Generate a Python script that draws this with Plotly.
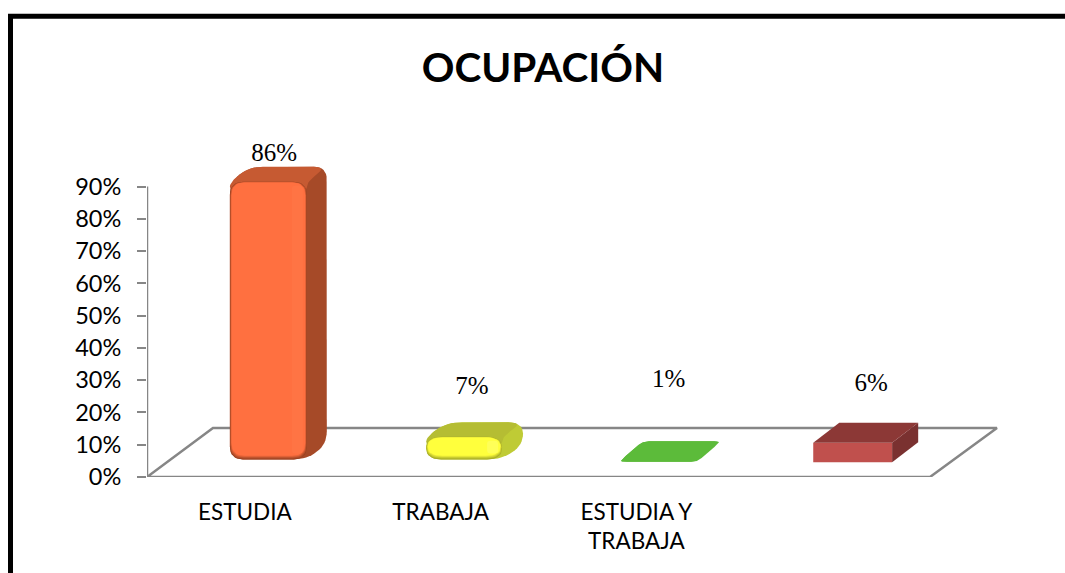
import plotly.graph_objects as go

# ---- data ----
categories = ["ESTUDIA", "TRABAJA", "ESTUDIA Y<br>TRABAJA", ""]
values = [0.86, 0.07, 0.006, 0.06]
data_labels = ["86%", "7%", "1%", "6%"]
label_heights = [0.999, 0.276, 0.297, 0.287]
label_shift = [0.03, 0.04, 0.045, 0.08]
y_ticks = [0, 0.1, 0.2, 0.3, 0.4, 0.5, 0.6, 0.7, 0.8, 0.9]

# ---- per-bar styling ----
bases = [0.0545, 0.0545, 0.047, 0.046]
x_shift = [0.12, 0.12, 0.116, 0.105]
widths = [0.393, 0.388, 0.388, 0.403]
depth_x = [0.102, 0.107, 0.112, 0.133]
depth_y = [0.047, 0.045, 0.058, 0.062]
radius = [13, 15, 6, 0]
front = ["#FF7040", "#FFFF3C", "#5CBB3A", "#C0504D"]
edge = ["#9A4222", "#A9AD28", "#5CBB3A", "#C0504D"]
top = ["#C65A32", "#B5BD33", "#5CBB3A", "#8C3836"]
side = ["#A64A28", "#BFCB35", "#5CBB3A", "#7A3130"]
highlight = ["#FF7444", "#FFFF58", "#5CBB3A", "#C0504D"]

GREY = "#868686"
PX_X, PX_Y = 195.75, 323.33  # pixels per category / per unit
PLOT_W, PLOT_H = 853, 1.1 * PX_Y
FRAME_LEFT, FRAME_TOP, PLOT_LEFT, PLOT_BOTTOM = 10.5, 15.7, 147, 477.4


def mix(c1, c2, t):
    a = [int(c1[k:k + 2], 16) for k in (1, 3, 5)]
    b = [int(c2[k:k + 2], 16) for k in (1, 3, 5)]
    return "#" + "".join(f"{round(x + (y - x) * t):02X}" for x, y in zip(a, b))


def rounded(pts, r):
    """Round a polygon's corners; r is in pixels."""
    if r <= 0:
        return [p[0] for p in pts] + [pts[0][0]], [p[1] for p in pts] + [pts[0][1]]
    P = [(a * PX_X, b * PX_Y) for a, b in pts]
    n = len(P)
    out = []

    def toward(a, b):
        d = ((a[0] - b[0]) ** 2 + (a[1] - b[1]) ** 2) ** 0.5
        t = min(r, d / 2) / d
        return (b[0] + (a[0] - b[0]) * t, b[1] + (a[1] - b[1]) * t)

    for k in range(n):
        p0, p1, p2 = P[k - 1], P[k], P[(k + 1) % n]
        s, e = toward(p0, p1), toward(p2, p1)
        for j in range(9):
            t = j / 8
            out.append(((1 - t) ** 2 * s[0] + 2 * t * (1 - t) * p1[0] + t ** 2 * e[0],
                        (1 - t) ** 2 * s[1] + 2 * t * (1 - t) * p1[1] + t ** 2 * e[1]))
    out.append(out[0])
    return [a / PX_X for a, _ in out], [b / PX_Y for _, b in out]


fig = go.Figure()


def poly(pts, color, r=0):
    xs, ys = rounded(pts, r)
    fig.add_trace(go.Scatter(x=xs, y=ys, mode="lines", fill="toself", fillcolor=color,
                             line=dict(width=0, color=color), hoverinfo="skip", showlegend=False))


# true bar trace (square front faces are visible, rounded ones are overdrawn below)
fig.add_trace(go.Bar(
    x=[i + x_shift[i] for i in range(4)], y=values, base=bases, width=widths,
    marker=dict(color=[front[i] if radius[i] == 0 else "rgba(0,0,0,0)" for i in range(4)],
                line=dict(width=0)),
    showlegend=False, hoverinfo="skip"))

# floor
fx, fy = 0.337, 0.1515
fig.add_trace(go.Scatter(x=[-0.5, 3.5, 3.5 + fx + 0.005, -0.5 + fx, -0.5], y=[0, 0, fy, fy, 0],
                         mode="lines", line=dict(color=GREY, width=2.5), hoverinfo="skip", showlegend=False))
# y axis line
fig.add_trace(go.Scatter(x=[-0.5, -0.5], y=[y_ticks[0], y_ticks[-1]], mode="lines",
                         line=dict(color=GREY, width=2.5), hoverinfo="skip", showlegend=False))

for i, v in enumerate(values):
    cx = i + x_shift[i]
    w = widths[i] / 2
    x0, x1 = cx - w, cx + w
    y0, y1 = bases[i], bases[i] + v
    dx, dy = depth_x[i], depth_y[i]
    r = radius[i]
    # silhouette of the box, in the side colour
    if r == 0:
        poly([(x1, y0), (x1 + dx, y0 + dy), (x1 + dx, y1 + dy), (x1, y1)], side[i])
        poly([(x0, y1), (x1, y1), (x1 + dx, y1 + dy), (x0 + dx, y1 + dy)], top[i])
        continue
    poly([(x0, y0), (x1, y0), (x1 + dx, y0 + dy), (x1 + dx, y1 + dy), (x0 + dx, y1 + dy), (x0, y1)], side[i], r)
    # top face, running underneath the front face
    under = min(v, 10 / PX_Y)
    poly([(x0, y1 - under), (x1, y1 - under), (x1, y1), (x1 + dx, y1 + dy), (x0 + dx, y1 + dy), (x0, y1)], top[i], r)
    if v < 0.01:
        continue
    # bevelled front: soft darker rim at the bottom
    for step in range(5):
        t = step / 4
        ins_x, ins_yb, ins_yt = step * 0.4 / PX_X, step * 0.9 / PX_Y, step * 0.15 / PX_Y
        poly([(x0 + ins_x, y0 + ins_yb), (x1 - ins_x, y0 + ins_yb),
              (x1 - ins_x, y1 - ins_yt), (x0 + ins_x, y1 - ins_yt)], mix(edge[i], front[i], t), r)
    poly([(x1 - 15 / PX_X, y0 + 6 / PX_Y), (x1 - 4 / PX_X, y0 + 6 / PX_Y),
          (x1 - 4 / PX_X, y1 - 4 / PX_Y), (x1 - 15 / PX_X, y1 - 4 / PX_Y)], highlight[i], 3)

fig.add_trace(go.Scatter(
    x=[i + label_shift[i] + 0.12 for i in range(4)], y=label_heights, mode="text", text=data_labels,
    textposition="middle center", textfont=dict(family="Liberation Serif", size=25, color="black"),
    hoverinfo="skip", showlegend=False))

fig.update_layout(
    width=1065, height=573, autosize=False,
    paper_bgcolor="white", plot_bgcolor="white", showlegend=False,
    margin=dict(l=PLOT_LEFT, r=65, t=PLOT_BOTTOM - PLOT_H, b=573 - PLOT_BOTTOM, pad=0),
    title=dict(text="<b>OCUPACIÓN</b>", x=543 / 1065, xref="container", xanchor="center",
               y=1 - 68 / 573, yref="container", yanchor="middle",
               font=dict(family="Lato", size=40.5, color="black")),
    xaxis=dict(range=[-0.5, -0.5 + PLOT_W / PX_X], tickmode="array", tickvals=[0, 1, 2, 3],
               ticktext=categories, showgrid=False, zeroline=False, showline=False,
               ticks="", ticklabelstandoff=19, tickfont=dict(family="Lato", size=22.5, color="black")),
    yaxis=dict(range=[0, 1.1], tickmode="array", tickvals=y_ticks, tickformat=".0%",
               showgrid=False, zeroline=False, showline=False, ticks="outside", ticklen=9, tickwidth=2,
               tickcolor=GREY, ticklabelstandoff=11, tickfont=dict(family="Lato", size=23.5, color="black")),
    shapes=[dict(type="rect", xref="paper", yref="paper",
                 x0=(FRAME_LEFT - PLOT_LEFT) / PLOT_W, x1=1.2,
                 y0=-0.5, y1=(PLOT_BOTTOM - FRAME_TOP) / PLOT_H,
                 line=dict(color="black", width=5), fillcolor="rgba(0,0,0,0)")],
)

fig.write_html("out.html", post_script="document.body.style.margin='0';",
               config=dict(displayModeBar=False))
